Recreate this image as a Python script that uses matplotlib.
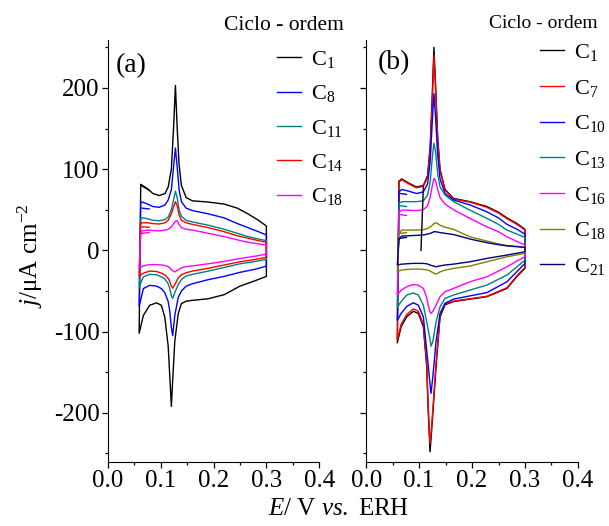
import numpy as np
import matplotlib.pyplot as plt
from matplotlib.ticker import MultipleLocator

plt.rcParams['font.family'] = 'Liberation Serif'
plt.rcParams['mathtext.fontset'] = 'custom'
plt.rcParams['mathtext.rm'] = 'Liberation Serif'
plt.rcParams['mathtext.it'] = 'Liberation Serif:italic'
plt.rcParams['axes.unicode_minus'] = False

# ---- panel (a): potential grids (V) for the anodic and cathodic sweeps ----
E_a_up = [0.062, 0.065, 0.075, 0.085, 0.097, 0.108, 0.114, 0.120, 0.1245, 0.1277,
          0.131, 0.1346, 0.139, 0.148, 0.16, 0.19, 0.22, 0.245, 0.265, 0.285, 0.300]
E_a_down = [0.300, 0.28, 0.25, 0.22, 0.19, 0.16, 0.148, 0.139, 0.133, 0.1265,
            0.1225, 0.120, 0.117, 0.114, 0.1075, 0.101, 0.092, 0.079, 0.067, 0.059]

# current densities (uA cm-2)
a_c1_up = [81, 80, 76, 70, 67.5, 70, 78, 100, 155, 203, 151, 106, 80, 65, 61, 59.5, 57, 52, 45, 37, 30]
a_c1_down = [-32, -37, -44, -54.5, -59.5, -61.5, -62.5, -65.5, -78, -112, -160, -192, -155, -118,
             -82, -67.5, -64.6, -67.5, -80, -102]
a_c8_up = [59, 59.5, 57, 54, 53, 56, 62, 75, 105, 126, 103, 75, 60, 52, 49, 45, 40, 33, 28, 23, 19]
a_c8_down = [-19.3, -23, -27, -32, -36, -41, -44, -50, -58, -80, -105, -95, -75, -63, -52, -47, -44,
             -43, -47, -69]
a_c11_up = [39, 40, 39, 37, 36.5, 38, 41, 50, 63, 73, 65, 50, 42, 37, 35, 31, 26, 21, 17, 14, 12]
a_c11_down = [-11, -13.5, -16.5, -21, -25.5, -29.5, -31.5, -36, -42, -52, -59, -56, -47, -41, -35,
              -32.5, -30, -29.5, -32.5, -45]
a_c14_up = [33, 34, 34, 33, 32.5, 34, 37, 45, 54, 60, 55, 44, 37, 34, 32, 28, 23, 18, 15, 12, 10]
a_c14_down = [-8.6, -11, -14, -18, -22, -25.5, -27.5, -30, -34, -42, -46.5, -44, -38, -34.5, -30,
              -28, -26, -25.5, -28, -32]
a_c18_up = [20, 24, 25, 24.5, 24, 25, 26, 29, 33, 36, 36.5, 32, 28, 26, 25, 21, 17, 13, 10, 8, 6.5]
a_c18_down = [-4.5, -7, -10, -13.5, -16.5, -19, -20, -21.5, -24, -26.5, -25, -23.5, -21.5, -20,
              -18.5, -18, -17.5, -17.5, -19, -22]

# short segments left by the start of each recorded sweep
a_stub_E = [0.065, 0.078]
a_c1_stub = [79, 74]
a_c8_stub = [52, 51]
a_c14_stub = [29, 28.5]
a_c18_stub = [21, 22]

# ---- panel (b) ----
E_b_up = [0.062, 0.067, 0.08, 0.095, 0.108, 0.116, 0.121, 0.125, 0.128, 0.131,
          0.135, 0.1395, 0.149, 0.165, 0.196, 0.228, 0.25, 0.266, 0.285, 0.300]
E_b_down = [0.300, 0.285, 0.266, 0.228, 0.196, 0.165, 0.149, 0.1395, 0.132, 0.126,
            0.1225, 0.1206, 0.117, 0.1143, 0.108, 0.0985, 0.089, 0.0765, 0.066, 0.0588]

b_c1_up = [85, 88, 83, 78, 80, 92, 130, 195, 250, 205, 140, 100, 75, 64, 60, 54, 47, 40, 33, 26]
b_c1_down = [-22, -32, -46.8, -57, -60, -63, -67, -82, -143, -200, -232, -248, -195, -143, -94,
             -77.6, -75, -81.8, -94, -113.8]
b_c7_up = [84, 87, 82, 77, 79, 90, 125, 185, 240, 200, 137, 98, 74, 63, 59.5, 53, 46, 39, 32, 25]
b_c7_down = [-21, -31, -46, -56.5, -59.5, -62.5, -66, -80, -138, -195, -225, -238, -190, -138, -91,
             -75, -72, -79, -91, -110]
b_c10_up = [72, 75, 73, 70, 72, 82, 110, 160, 193, 165, 118, 88, 70, 62, 56, 47.5, 40, 32, 26, 20]
b_c10_down = [-16, -26, -38.6, -52, -56, -60, -65, -77.6, -112, -155, -176, -165, -140, -123, -82,
              -67.4, -64.5, -69, -77.6, -86]
b_c13_up = [58, 60, 60, 60, 61, 68, 85, 115, 132, 122, 95, 78, 68, 60, 49.6, 39.4, 32, 25, 20, 16]
b_c13_down = [-12, -20, -30.4, -42.7, -48.9, -55, -59, -69.4, -88, -112, -118, -110, -97, -88,
              -67.4, -55, -52.4, -55, -63, -70]
b_c16_up = [47, 49.6, 49.5, 49, 50, 55, 66, 80, 88.7, 86, 75, 65, 57, 50, 39.4, 29, 23, 16.7, 11, 6.5]
b_c16_down = [-7.8, -13, -20.2, -32.5, -38.6, -46.8, -50.9, -57, -67.4, -75, -77.6, -76, -67, -58,
              -46.8, -42.7, -42, -44.8, -49, -55]
b_c18_up = [20, 25, 25, 25, 25.5, 27, 29, 31, 33, 34, 33, 31, 28.5, 26, 16.7, 11.5, 8, 6, 5, 3.7]
b_c18_down = [-3.7, -5.5, -7.8, -14, -19.3, -22.2, -24.3, -26.5, -29.2, -27.5, -26, -25, -24.5,
              -24, -23.4, -23, -23, -23.5, -24.3, -26.3]
b_c21_up = [14, 17.6, 18, 18.5, 19, 20, 21, 22, 23, 23, 22.5, 22, 21, 19.5, 14, 9.5, 7, 5.5, 4.5, 3.7]
b_c21_down = [-1.6, -3.5, -5.7, -9.9, -14, -16.9, -18, -19, -20.2, -19, -18.5, -18, -17, -16.5,
              -16, -16, -16, -16.5, -17, -18]

b_c1_start_E = [0.1035, 0.108]
b_c1_start = [0, 78]
b_stub_E = [0.065, 0.076]
b_c10_stub = [70, 69]
b_c13_stub = [55, 54]
b_c16_stub = [44, 43]
b_c18_stub = [21, 22]
b_c21_stub = [15, 16]


def cycle(E_up, j_up, E_down, j_down):
    # anodic sweep, cathodic sweep, then back up to the starting point
    E = list(E_up) + list(E_down) + [E_up[0]]
    j = list(j_up) + list(j_down) + [j_up[0]]
    return E, j


fig = plt.figure(figsize=(6.09, 5.26), dpi=100)
ax_a = fig.add_axes([108 / 609, 1 - 462 / 526, 211.2 / 609, 422 / 526])
ax_b = fig.add_axes([366.2 / 609, 1 - 462 / 526, 211.7 / 609, 422 / 526])

lw = 1.0
cycles_a = [('C$_{1}$', 'black', a_c1_up, a_c1_down, a_c1_stub),
            ('C$_{8}$', '#0000ff', a_c8_up, a_c8_down, a_c8_stub),
            ('C$_{11}$', '#008080', a_c11_up, a_c11_down, None),
            ('C$_{14}$', '#ff0000', a_c14_up, a_c14_down, a_c14_stub),
            ('C$_{18}$', '#ff00ff', a_c18_up, a_c18_down, a_c18_stub)]
handles_a = []
for label, color, up, down, stub in cycles_a:
    E, j = cycle(E_a_up, up, E_a_down, down)
    h, = ax_a.plot(E, j, color=color, lw=lw, label=label)
    handles_a.append(h)
    if stub is not None:
        ax_a.plot(a_stub_E, stub, color=color, lw=lw)

cycles_b = [('C$_{1}$', 'black', b_c1_up, b_c1_down, None),
            ('C$_{7}$', '#ff0000', b_c7_up, b_c7_down, None),
            ('C$_{10}$', '#0000ff', b_c10_up, b_c10_down, b_c10_stub),
            ('C$_{13}$', '#008080', b_c13_up, b_c13_down, b_c13_stub),
            ('C$_{16}$', '#ff00ff', b_c16_up, b_c16_down, b_c16_stub),
            ('C$_{18}$', '#808000', b_c18_up, b_c18_down, b_c18_stub),
            ('C$_{21}$', '#000080', b_c21_up, b_c21_down, b_c21_stub)]
handles_b = []
for label, color, up, down, stub in cycles_b:
    E, j = cycle(E_b_up, up, E_b_down, down)
    h, = ax_b.plot(E, j, color=color, lw=lw, label=label)
    handles_b.append(h)
    if stub is not None:
        ax_b.plot(b_stub_E, stub, color=color, lw=lw)
ax_b.plot(b_c1_start_E, b_c1_start, color='black', lw=lw)

for ax in (ax_a, ax_b):
    ax.set_xlim(0, 0.4)
    ax.set_ylim(-260.5, 259)
    ax.spines['top'].set_visible(False)
    ax.spines['right'].set_visible(False)
    ax.xaxis.set_major_locator(MultipleLocator(0.1))
    ax.xaxis.set_minor_locator(MultipleLocator(0.05))
    ax.yaxis.set_major_locator(MultipleLocator(100))
    ax.yaxis.set_minor_locator(MultipleLocator(50))
    ax.tick_params(which='major', direction='out', length=4, width=0.9, pad=2, labelsize=18)
    ax.tick_params(which='minor', direction='out', length=2.5, width=0.9)
    ax.xaxis.set_major_formatter(plt.FormatStrFormatter('%.1f'))
ax_b.tick_params(axis='y', labelleft=False)

ax_a.text(0.035, 0.94, '(a)', transform=ax_a.transAxes, fontsize=20, va='center')
ax_b.text(0.055, 0.947, '(b)', transform=ax_b.transAxes, fontsize=20, va='center')

leg_kw = dict(loc='upper left', bbox_transform=fig.transFigure, frameon=False, fontsize=16,
              handlelength=1.1, handletextpad=0.45, borderpad=0, borderaxespad=0)
ax_a.legend(handles=handles_a, bbox_to_anchor=(277 / 609, 1 - 49 / 526),
            labelspacing=0.6, **leg_kw)
ax_b.legend(handles=handles_b, bbox_to_anchor=(540 / 609, 1 - 42 / 526),
            labelspacing=0.66, **leg_kw)

fig.text(283.5 / 609, 1 - 25 / 526, 'Ciclo - ordem', fontsize=15.5, ha='center', va='center')
fig.text(543 / 609, 1 - 23 / 526, 'Ciclo - ordem', fontsize=14, ha='center', va='center')

fig.text(30 / 609, 1 - 256 / 526, '$j$/μA cm$^{-2}$', fontsize=18, rotation=90,
         ha='center', va='center')
fig.text(339 / 609, 1 - 509 / 526, '$E$/ V $vs.$ ERH', fontsize=18, ha='center', va='center')

fig.savefig('out.png', dpi=100)
